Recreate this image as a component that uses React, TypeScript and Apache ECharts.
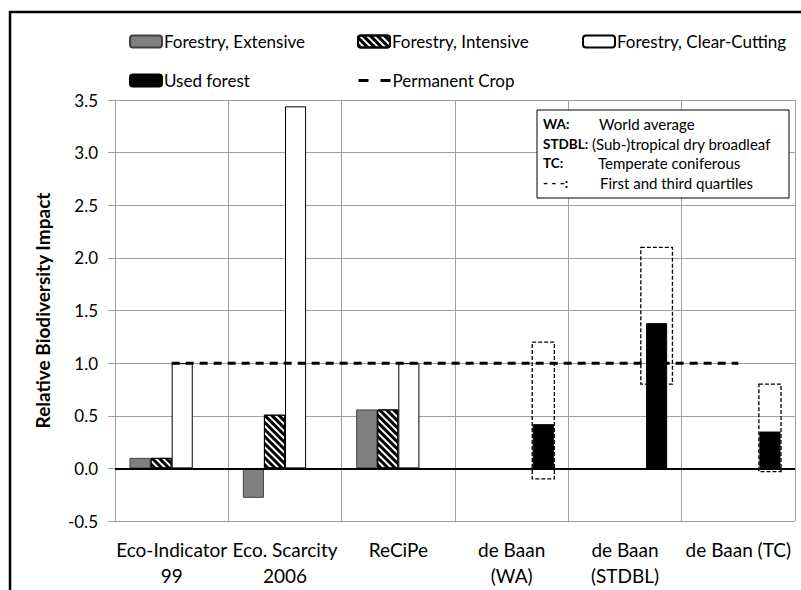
import React, { useEffect, useRef } from "react";
import * as echarts from "echarts";

const categories = [
  "Eco-Indicator\n99",
  "Eco. Scarcity\n2006",
  "ReCiPe",
  "de Baan\n(WA)",
  "de Baan\n(STDBL)",
  "de Baan (TC)",
];
const extensive = [0.1, -0.28, 0.56, null, null, null];
const intensive = [0.1, 0.51, 0.56, null, null, null];
const clearCutting = [1.0, 3.44, 1.0, null, null, null];
const usedForest = [null, null, null, 0.42, 1.38, 0.35];
const permanentCrop = [1, 1, 1, 1, 1, 1];
// [category index, first quartile, third quartile]
const quartiles = [
  [3, -0.1, 1.2],
  [4, 0.8, 2.1],
  [5, -0.03, 0.8],
];
const yTicks = { min: -0.5, max: 3.5, interval: 0.5 };
const noteKeys = ["WA:", "STDBL:", "TC:", "- - -:"];
const noteTexts = [
  "World average",
  "(Sub-)tropical dry broadleaf",
  "Temperate coniferous",
  "First and third quartiles",
];

const FONT = "Lato";
const CAT_GAP = 0.256;

export default function App() {
  const ref = useRef<HTMLDivElement>(null);
  useEffect(() => {
    if (!ref.current) return;
    const chart = echarts.init(ref.current, null, { renderer: "svg" });
    const legendText = {
      fontFamily: FONT,
      fontSize: 17,
      color: "#000",
      padding: [0, 0, 0, -3],
    };
    const mkLegend = (name: string, left: number, top: number, extra: any = {}) => ({
      data: [name],
      left,
      top,
      padding: 0,
      itemWidth: 32,
      itemHeight: 12,
      itemGap: 3,
      textStyle: legendText,
      selectedMode: false,
      ...extra,
    });
    const noteX = 543;
    const noteValX = [599, 592, 598, 600];
    const noteY = [124, 144, 163, 183];
    const graphics: any[] = [
      {
        type: "rect",
        shape: { x: 10, y: 12, width: 820, height: 620 },
        style: { fill: "none", stroke: "#000", lineWidth: 2.5 },
        silent: true,
        z: 100,
      },
      {
        type: "rect",
        shape: { x: 537, y: 110, width: 252, height: 88 },
        style: { fill: "#fff", stroke: "#000", lineWidth: 1 },
        z: 50,
      },
    ];
    noteKeys.forEach((k, i) => {
      graphics.push({
        type: "text",
        x: noteX,
        y: noteY[i],
        z: 51,
        style: {
          text: k,
          fontFamily: FONT,
          fontWeight: "bold",
          fontSize: 13.5,
          fill: "#000",
          verticalAlign: "middle",
        },
      });
      graphics.push({
        type: "text",
        x: noteValX[i],
        y: noteY[i],
        z: 51,
        style: {
          text: noteTexts[i],
          fontFamily: FONT,
          fontSize: 15,
          fill: "#000",
          verticalAlign: "middle",
        },
      });
    });

    const option: any = {
      animation: false,
      backgroundColor: "#fff",
      textStyle: { fontFamily: FONT },
      legend: [
        mkLegend("Forestry, Extensive", 129, 33),
        mkLegend("Forestry, Intensive", 357, 33),
        mkLegend("Forestry, Clear-Cutting", 582, 33),
        mkLegend("Used forest", 129, 72),
        mkLegend("Permanent Crop", 357, 72, {
          itemStyle: { color: "rgba(0,0,0,0)", borderWidth: 0, opacity: 0 },
          lineStyle: { color: "#000", width: 3, type: [10, 12] },
        }),
      ],
      grid: { left: 115, right: 6, top: 100, bottom: 69, containLabel: false },
      xAxis: {
        type: "category",
        data: categories,
        boundaryGap: true,
        axisLine: { show: false },
        axisTick: { show: false },
        splitLine: { show: true, lineStyle: { color: "#a0a0a0", width: 1 } },
        axisLabel: {
          interval: 0,
          fontFamily: FONT,
          fontSize: 19,
          color: "#000",
          lineHeight: 26,
          margin: 15,
        },
      },
      yAxis: {
        type: "value",
        min: yTicks.min,
        max: yTicks.max,
        interval: yTicks.interval,
        name: "Relative Biodiversity Impact",
        nameLocation: "middle",
        nameRotate: 90,
        nameGap: 63,
        nameTextStyle: {
          fontFamily: FONT,
          fontWeight: "bold",
          fontSize: 19,
          color: "#000",
        },
        axisLine: { show: true, lineStyle: { color: "#a0a0a0", width: 1 } },
        axisTick: { show: true, length: 7, lineStyle: { color: "#a0a0a0" } },
        splitLine: { show: true, lineStyle: { color: "#a0a0a0", width: 1 } },
        axisLabel: {
          fontFamily: FONT,
          fontSize: 17,
          color: "#000",
          margin: 17,
          formatter: (v: number) => v.toFixed(1),
        },
      },
      graphic: graphics,
      series: [
        {
          name: "Forestry, Extensive",
          type: "bar",
          data: extensive,
          barGap: "0%",
          barCategoryGap: CAT_GAP * 100 + "%",
          itemStyle: { color: "#808080", borderColor: "#404040", borderWidth: 1 },
          markLine: {
            silent: true,
            symbol: "none",
            label: { show: false },
            lineStyle: { color: "#000", type: "solid", width: 2 },
            data: [{ yAxis: 0 }],
            z: 5,
          },
        },
        {
          name: "Forestry, Intensive",
          type: "bar",
          data: intensive,
          barGap: "0%",
          barCategoryGap: CAT_GAP * 100 + "%",
          itemStyle: {
            color: "#fff",
            borderColor: "#000",
            borderWidth: 1,
            decal: {
              symbol: "rect",
              symbolSize: 1,
              color: "#000",
              backgroundColor: "#fff",
              dashArrayX: [1, 0],
              dashArrayY: [3, 2],
              rotation: Math.PI / 4,
            },
          },
        },
        {
          name: "Forestry, Clear-Cutting",
          type: "bar",
          data: clearCutting,
          barGap: "0%",
          barCategoryGap: CAT_GAP * 100 + "%",
          itemStyle: { color: "#fff", borderColor: "#000", borderWidth: 1 },
        },
        {
          name: "Used forest",
          type: "bar",
          data: usedForest,
          barGap: "0%",
          barCategoryGap: CAT_GAP * 100 + "%",
          itemStyle: { color: "#000", borderColor: "#000", borderWidth: 1 },
        },
        {
          name: "Permanent Crop",
          type: "line",
          data: permanentCrop,
          symbol: "none",
          lineStyle: { color: "#000", width: 3, type: [8, 6] },
          itemStyle: { color: "#000" },
          z: 4,
        },
        {
          name: "Quartiles",
          type: "custom",
          data: quartiles,
          encode: { x: 0, y: [1, 2] },
          z: 6,
          renderItem: (params: any, api: any) => {
            const idx = api.value(0);
            const lo = api.coord([idx, api.value(1)]);
            const hi = api.coord([idx, api.value(2)]);
            const catW = api.size([1, 0])[0];
            const barW = (catW * (1 - CAT_GAP)) / 4;
            const center = lo[0] + 1.5 * barW;
            const w = barW * (params.dataIndex === 1 ? 1.5 : 1.05);
            return {
              type: "rect",
              shape: { x: center - w / 2, y: hi[1], width: w, height: lo[1] - hi[1] },
              style: { fill: "none", stroke: "#000", lineWidth: 1.3, lineDash: [4, 2] },
            };
          },
        },
      ],
    };
    chart.setOption(option);
    return () => chart.dispose();
  }, []);
  return (
    <div
      ref={ref}
      style={{ position: "absolute", left: 0, top: 0, width: 801, height: 590 }}
    />
  );
}
